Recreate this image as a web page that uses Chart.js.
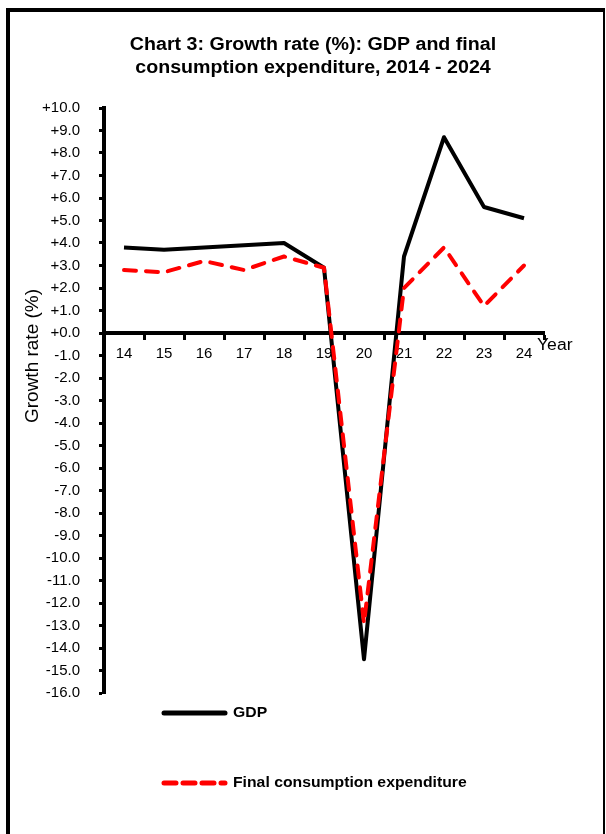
<!DOCTYPE html>
<html>
<head>
<meta charset="utf-8">
<script src="https://cdn.jsdelivr.net/npm/chart.js@4"></script>
<style>
  html, body { margin: 0; padding: 0; background: #fff; overflow: hidden; }
  #frame {
    position: absolute; left: 6px; top: 8px; width: 593px; height: 900px;
    border-left: 4px solid #000; border-top: 4px solid #000; border-right: 2px solid #000;
  }
  #growth-chart { position: absolute; left: 0; top: 0; }
</style>
</head>
<body>
<div id="frame"></div>
<canvas id="growth-chart" width="606" height="834"></canvas>
<script>
const titleLines = ['Chart 3: Growth rate (%): GDP and final', 'consumption expenditure, 2014 - 2024'];
const years = ['14', '15', '16', '17', '18', '19', '20', '21', '22', '23', '24'];
const gdpGrowth = [3.8, 3.7, 3.8, 3.9, 4.0, 2.9, -14.5, 3.4, 8.7, 5.6, 5.1];
const consumptionGrowth = [2.8, 2.7, 3.2, 2.8, 3.4, 2.9, -12.9, 2.0, 3.8, 1.2, 3.0];
const yMin = -16;
const yMax = 10;
const yStep = 1;
const yTitle = 'Growth rate (%)';
const xTitle = 'Year';

function formatTick(value) {
    if (value >= 0) {
        return '+' + value.toFixed(1);
    }
    return value.toFixed(1);
}

function drawText(ctx, text, x, y, font, align, stretch) {
    ctx.save();
    ctx.font = font;
    ctx.fillStyle = '#000';
    ctx.textBaseline = 'middle';
    ctx.textAlign = align;
    ctx.translate(x, y);
    ctx.scale(stretch, 1);
    ctx.fillText(text, 0, 0);
    ctx.restore();
}

// title, axis titles and the legend are drawn by hand so they sit where the original has them
const extrasPlugin = {
    id: 'extras',
    afterDraw(chart) {
        const ctx = chart.ctx;
        drawText(ctx, titleLines[0], 313, 45, 'bold 18px "Liberation Sans"', 'center', 1.09);
        drawText(ctx, titleLines[1], 313, 68, 'bold 18px "Liberation Sans"', 'center', 1.09);

        ctx.save();
        ctx.translate(33, 356);
        ctx.rotate(-Math.PI / 2);
        drawText(ctx, yTitle, 0, 0, '19px "Liberation Sans"', 'center', 1);
        ctx.restore();

        drawText(ctx, xTitle, 537, 346, '16px "Liberation Sans"', 'left', 1.1);

        const legendRows = [713, 783];
        chart.data.datasets.forEach((ds, i) => {
            const y = legendRows[i];
            ctx.save();
            ctx.strokeStyle = ds.borderColor;
            ctx.lineWidth = 5;
            ctx.lineCap = 'round';
            ctx.setLineDash(ds.borderDash ? [12, 7] : []);
            ctx.beginPath();
            ctx.moveTo(164, y);
            ctx.lineTo(225, y);
            ctx.stroke();
            ctx.restore();
            drawText(ctx, ds.label, 233, y, 'bold 15px "Liberation Sans"', 'left', 1.05);
        });
    }
};

const ctxChart = document.getElementById('growth-chart');

new Chart(ctxChart, {
    type: 'line',
    data: {
        labels: years,
        datasets: [
            {
                label: 'GDP',
                data: gdpGrowth,
                borderColor: '#000000',
                borderWidth: 4,
                borderJoinStyle: 'round',
                pointRadius: 0,
                tension: 0,
                order: 1
            },
            {
                label: 'Final consumption expenditure',
                data: consumptionGrowth,
                borderColor: '#FF0000',
                borderWidth: 4,
                borderDash: [12, 10],
                borderCapStyle: 'round',
                borderJoinStyle: 'round',
                pointRadius: 0,
                tension: 0,
                order: 0
            }
        ]
    },
    options: {
        responsive: false,
        animation: false,
        devicePixelRatio: 1,
        layout: {
            padding: { left: 0, top: 108, right: 62, bottom: 141 }
        },
        plugins: {
            legend: { display: false },
            title: { display: false },
            tooltip: { enabled: false }
        },
        scales: {
            x: {
                position: { y: 0 },
                offset: true,
                afterFit(scale) { scale.height = 0; },
                grid: {
                    drawOnChartArea: false,
                    offset: true,
                    tickLength: 5,
                    tickWidth: 3,
                    color: '#000'
                },
                border: { display: true, width: 4, color: '#000' },
                ticks: {
                    color: '#000',
                    padding: 7,
                    maxRotation: 0,
                    font: { family: '"Liberation Sans"', size: 15 }
                }
            },
            y: {
                min: yMin,
                max: yMax,
                afterFit(scale) { scale.width = 104; },
                grid: {
                    drawOnChartArea: false,
                    tickLength: 5,
                    tickWidth: 3,
                    color: '#000'
                },
                border: { display: true, width: 4, color: '#000' },
                ticks: {
                    stepSize: yStep,
                    color: '#000',
                    padding: 19,
                    font: { family: '"Liberation Sans"', size: 15 },
                    callback: (value) => formatTick(value)
                }
            }
        }
    },
    plugins: [extrasPlugin]
});
</script>
</body>
</html>
